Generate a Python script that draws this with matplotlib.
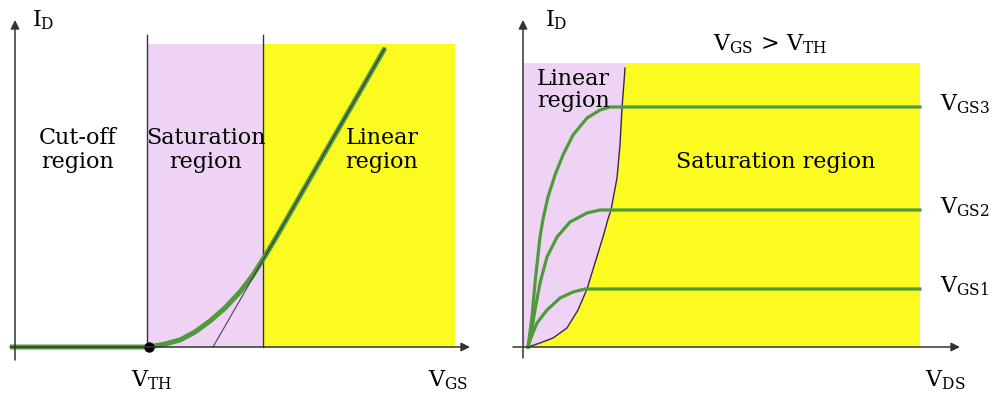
import numpy as np
import matplotlib.pyplot as plt

plt.rcParams['font.family'] = 'DejaVu Serif'
plt.rcParams['mathtext.fontset'] = 'dejavuserif'

# ---- left panel: I_D vs V_GS (units = px offsets) ----
v_th = 134
v_sat_edge = 248
region_top = 303
region_right = 440
id_vgs_x = [-5, 134, 150, 165, 180, 195, 210, 225, 238, 250, 262, 370]
id_vgs_y = [0, 0, 3, 7, 15, 26, 39, 55, 72, 91, 111, 299]
tangent_x = [198, 370]
tangent_y = [0, 299]

# ---- right panel: I_D vs V_DS ----
vds_end = 395
sat_top = 284
boundary_x = [3, 15, 28, 42, 53, 62, 70, 78, 83, 86, 92, 95, 97, 99, 100, 100]
boundary_y = [0, 4, 9, 19, 37, 58, 84, 110, 128, 137, 169, 202, 239, 265, 279, 284]
vgs1_x = [3, 5, 12, 22, 35, 48, 60]
vgs1_y = [0, 7, 24, 37, 49, 55, 58]
vgs2_x = [3, 5, 10, 15, 22, 32, 45, 62, 75, 85]
vgs2_y = [0, 7, 37, 64, 90, 110, 125, 134, 137, 137]
vgs3_x = [3, 7, 10, 15, 18, 23, 30, 38, 48, 62, 75, 85, 98]
vgs3_y = [0, 30, 64, 110, 128, 150, 172, 192, 212, 229, 237, 240, 240]
vgs_curves = [(vgs1_x, vgs1_y), (vgs2_x, vgs2_y), (vgs3_x, vgs3_y)]
vgs_labels = ['V$_{\\mathrm{GS1}}$', 'V$_{\\mathrm{GS2}}$', 'V$_{\\mathrm{GS3}}$']

purple = '#eed3f4'
yellow = '#fbfb22'
green = '#4f9a3a'
axcol = '#333333'
fs = 16

fig = plt.figure(figsize=(9.93, 4.01), dpi=100)
ax1 = fig.add_axes([0, 0, 490 / 993, 1])
ax2 = fig.add_axes([490 / 993, 0, 503 / 993, 1])
ax1.set_xlim(-15, 475)
ax2.set_xlim(-35, 468)
for ax in (ax1, ax2):
    ax.set_ylim(-54, 347)
    ax.axis('off')

arrow = dict(arrowstyle='-|>', lw=1.1, color=axcol, mutation_scale=13, shrinkA=0, shrinkB=0)

# LEFT
ax1.fill_between([v_th - 1, v_sat_edge], 0, region_top, color=purple, lw=0)
ax1.fill_between([v_sat_edge, region_right], 0, region_top, color=yellow, lw=0)
for xv in (v_th - 2, v_sat_edge):
    ax1.plot([xv, xv], [0, 312], color=axcol, lw=1)
ax1.annotate('', xy=(0, 327), xytext=(0, -13), arrowprops=arrow)
ax1.annotate('', xy=(455, 0), xytext=(-5, 0), arrowprops=arrow)
ax1.plot(id_vgs_x, id_vgs_y, color=green, lw=3.6, solid_capstyle='butt', solid_joinstyle='round')
ax1.plot(tangent_x, tangent_y, color='#3b2a45', lw=0.9, alpha=0.8)
ax1.plot([v_th], [0], 'o', color='black', ms=6.5)

ax1.text(63, 197, 'Cut-off\nregion', ha='center', va='center', fontsize=fs, linespacing=1.1)
ax1.text(191, 197, 'Saturation\nregion', ha='center', va='center', fontsize=fs, linespacing=1.1)
ax1.text(367, 197, 'Linear\nregion', ha='center', va='center', fontsize=fs, linespacing=1.1)
ax1.text(17, 321, 'I$_{\\mathrm{D}}$', ha='left', va='baseline', fontsize=fs)
ax1.text(137, -39, 'V$_{\\mathrm{TH}}$', ha='center', va='baseline', fontsize=fs)
ax1.text(433, -39, 'V$_{\\mathrm{GS}}$', ha='center', va='baseline', fontsize=fs)

# RIGHT
ax2.fill_between([-2, vds_end], 0, sat_top, color=yellow, lw=0)
ax2.fill_betweenx(boundary_y, -2, boundary_x, color=purple, lw=0)
ax2.plot(boundary_x[:-1], boundary_y[:-1], color='#3b2a45', lw=1)
ax2.annotate('', xy=(-2, 327), xytext=(-2, -11), arrowprops=arrow)
ax2.annotate('', xy=(435, 0), xytext=(-12, 0), arrowprops=arrow)
for (cx, cy), lab in zip(vgs_curves, vgs_labels):
    ax2.plot(cx + [vds_end], cy + [cy[-1]], color=green, lw=2.3, solid_joinstyle='round')
    ax2.text(415, cy[-1] + 3, lab, ha='left', va='center', fontsize=fs)

ax2.text(20, 321, 'I$_{\\mathrm{D}}$', ha='left', va='baseline', fontsize=fs)
ax2.text(245, 297, 'V$_{\\mathrm{GS}}$ > V$_{\\mathrm{TH}}$', ha='center', va='baseline', fontsize=fs)
ax2.text(12, 257, 'Linear\nregion', ha='left', va='center', fontsize=fs, linespacing=1.05)
ax2.text(251, 185, 'Saturation region', ha='center', va='center', fontsize=fs)
ax2.text(420, -39, 'V$_{\\mathrm{DS}}$', ha='center', va='baseline', fontsize=fs)

fig.savefig('out.png', dpi=100)
